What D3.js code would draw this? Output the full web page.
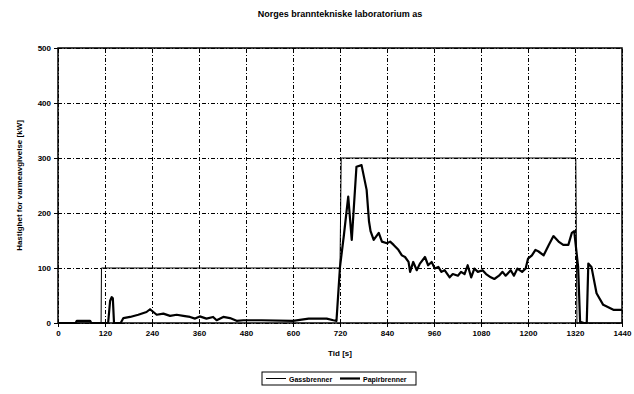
<!DOCTYPE html>
<html>
<head>
<meta charset="utf-8">
<script src="https://cdn.jsdelivr.net/npm/d3@7"></script>
<style>
  body { margin: 0; background: #fff; }
  text { font-family: "Liberation Sans", Arial, sans-serif; font-weight: bold; }
</style>
</head>
<body>
<div id="chart"></div>
<script>
const xTicks = [0, 120, 240, 360, 480, 600, 720, 840, 960, 1080, 1200, 1320, 1440];
const yTicks = [0, 100, 200, 300, 400, 500];

// burner output (thin line)
const burnerTime = [0, 110, 111, 720, 723, 1322, 1325, 1440];
const burnerKw   = [0, 0, 100, 100, 300, 300, 0, 0];

// measured heat release (thick line)
const hrrTime = [0, 45, 48, 82, 85, 107, 128, 133, 137, 140, 143, 160, 167, 184, 205, 226, 235, 252, 269, 286, 303, 320, 337, 350, 362, 379, 396, 405, 422, 439, 456, 473, 520, 600, 640, 686, 703, 711,
  720, 730, 741, 750, 762, 775, 788, 794,
  798, 806, 819, 827, 840, 848, 857, 869, 878, 886, 895, 899, 907, 916, 924, 937, 945, 954, 962, 971, 979, 987,
  1000, 1008, 1021, 1029, 1038, 1046, 1055, 1063, 1072, 1084, 1093, 1105, 1114, 1126, 1135, 1143, 1156, 1164, 1173, 1185, 1194,
  1200, 1210, 1219, 1227, 1240, 1253, 1265, 1278, 1290, 1303, 1312, 1318,
  1328, 1333, 1343, 1350, 1354, 1362, 1375, 1392, 1418, 1440];
const hrrKw = [0, 0, 4, 4, 0, 0, 0, 40, 47, 45, 0, 0, 9, 11, 15, 20, 25, 15, 17, 13, 15, 13, 11, 8, 12, 8, 11, 5, 11, 9, 4, 5, 5, 4, 8, 8, 5, 4,
  102, 160, 230, 151, 284, 287, 242, 185,
  167, 151, 164, 148, 145, 148, 142, 133, 123, 120, 111, 93, 111, 96, 108, 120, 105, 111, 99, 102, 93, 96,
  83, 89, 86, 93, 89, 105, 83, 99, 93, 96, 89, 83, 80, 86, 93, 86, 96, 86, 99, 93, 99,
  117, 123, 133, 130, 123, 142, 158, 148, 142, 142, 164, 167,
  102, 2, 0, 0, 108, 102, 54, 33, 24, 24];

const title = "Norges branntekniske laboratorium as";
const yTitle = "Hastighet for varmeavgivelse [kW]";
const xTitle = "Tid [s]";
const seriesNames = ["Gassbrenner", "Papirbrenner"];

const svgWidth = 634, svgHeight = 394;
const margin = { top: 48, right: 12, bottom: 71, left: 58 };
const width = svgWidth - margin.left - margin.right;
const height = svgHeight - margin.top - margin.bottom;

const svgRoot = d3.select("#chart").append("svg")
    .attr("width", svgWidth)
    .attr("height", svgHeight);

const svg = svgRoot.append("g")
    .attr("transform", `translate(${margin.left}, ${margin.top})`);

const xScale = d3.scaleLinear().domain([0, 1440]).range([0, width]);
const yScale = d3.scaleLinear().domain([0, 500]).range([height, 0]);

// grid
svg.append("g")
    .attr("class", "grid")
    .call(d3.axisLeft(yScale).tickValues(yTicks).tickSize(-width).tickFormat(""))
    .call(g => g.select(".domain").remove())
    .selectAll("line")
    .attr("stroke", "#000")
    .attr("stroke-width", 1)
    .attr("stroke-dasharray", "4,2,1,2");

svg.append("g")
    .attr("class", "grid")
    .attr("transform", `translate(0, ${height})`)
    .call(d3.axisBottom(xScale).tickValues(xTicks).tickSize(-height).tickFormat(""))
    .call(g => g.select(".domain").remove())
    .selectAll("line")
    .attr("stroke", "#000")
    .attr("stroke-width", 1)
    .attr("stroke-dasharray", "4,2,1,2");

// frame
svg.append("rect")
    .attr("width", width)
    .attr("height", height)
    .attr("fill", "none")
    .attr("stroke", "#000")
    .attr("stroke-width", 1.5);

// axes
svg.append("g")
    .attr("class", "y-axis")
    .call(d3.axisLeft(yScale).tickValues(yTicks).tickSize(4).tickPadding(3).tickFormat(d3.format("d")))
    .call(g => g.select(".domain").remove())
    .selectAll("text")
    .style("font-size", "8px");

svg.append("g")
    .attr("class", "x-axis")
    .attr("transform", `translate(0, ${height})`)
    .call(d3.axisBottom(xScale).tickValues(xTicks).tickSize(4).tickPadding(3).tickFormat(d3.format("d")))
    .call(g => g.select(".domain").remove())
    .selectAll("text")
    .style("font-size", "8px");

svg.selectAll(".tick line").attr("stroke", "#000");

// lines
const line = d3.line()
    .x(d => xScale(d[0]))
    .y(d => yScale(d[1]));

const burner = burnerTime.map((t, i) => [t, burnerKw[i]]);
const hrr = hrrTime.map((t, i) => [t, hrrKw[i]]);

svg.append("path")
    .datum(burner)
    .attr("fill", "none")
    .attr("stroke", "#000")
    .attr("stroke-width", 1)
    .attr("d", line);

svg.append("path")
    .datum(hrr)
    .attr("fill", "none")
    .attr("stroke", "#000")
    .attr("stroke-width", 2.2)
    .attr("stroke-linejoin", "round")
    .attr("d", line);

// titles
svgRoot.append("text")
    .attr("x", margin.left + width / 2)
    .attr("y", 17)
    .attr("text-anchor", "middle")
    .style("font-size", "9px")
    .text(title);

svgRoot.append("text")
    .attr("transform", `translate(22, ${margin.top + height / 2}) rotate(-90)`)
    .attr("text-anchor", "middle")
    .style("font-size", "8px")
    .text(yTitle);

svgRoot.append("text")
    .attr("x", margin.left + width / 2)
    .attr("y", margin.top + height + 33)
    .attr("text-anchor", "middle")
    .style("font-size", "8px")
    .text(xTitle);

// legend
const legend = svgRoot.append("g").attr("transform", "translate(262, 372)");
legend.append("rect")
    .attr("width", 154)
    .attr("height", 13)
    .attr("fill", "#fff")
    .attr("stroke", "#000")
    .attr("stroke-width", 1);

const legendItems = [
    { name: seriesNames[0], x: 4, w: 1 },
    { name: seriesNames[1], x: 78, w: 2.2 }
];
legendItems.forEach(item => {
    legend.append("line")
        .attr("x1", item.x).attr("x2", item.x + 20)
        .attr("y1", 6.5).attr("y2", 6.5)
        .attr("stroke", "#000")
        .attr("stroke-width", item.w);
    legend.append("text")
        .attr("x", item.x + 23)
        .attr("y", 9.5)
        .style("font-size", "7px")
        .text(item.name);
});
</script>
</body>
</html>
